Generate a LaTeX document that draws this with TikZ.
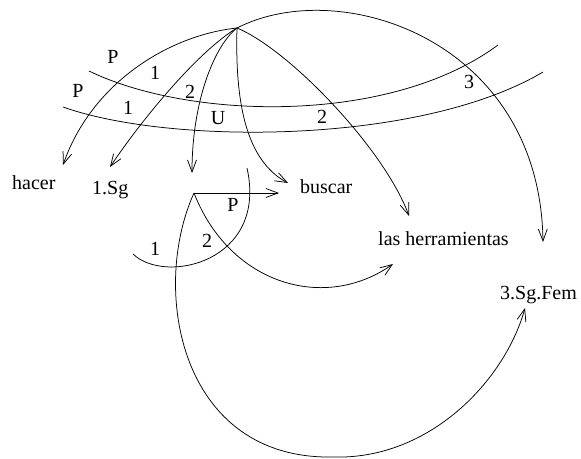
\documentclass[tikz,border=0pt]{standalone}
\usepackage{fontspec}
\setmainfont{Liberation Serif}
\usetikzlibrary{arrows.meta}
\begin{document}
\begin{tikzpicture}[x=1pt,y=-1pt,
  lbl/.style={inner sep=0pt, font=\fontsize{20}{24}\selectfont},
  word/.style={lbl, anchor=base west},
  conn/.style={line width=0.75pt},
  arr/.style={conn, -{Straight Barb[length=12pt,width=9pt]}}
]
\useasboundingbox (0,0) rectangle (581,458);
% anchor points
\coordinate (hub) at (237,28);
\coordinate (corner) at (194,193);
% words
\node[word] (hacer) at (12,189) {hacer};
\node[word] (sg) at (92,194) {1.Sg};
\node[word] (buscar) at (300,193) {buscar};
\node[word] (herr) at (378,245) {las herramientas};
\node[word] (fem) at (500,299) {3.Sg.Fem};
% arrow tips (free ends)
\coordinate (thacer) at (63,165);
\coordinate (tsg) at (110,167);
\coordinate (tmid) at (192,173);
\coordinate (tbus) at (288,183);
\coordinate (therr) at (409,216);
\coordinate (tfem) at (543,242);
\coordinate (tbusH) at (279,193);
\coordinate (therrB) at (393,264);
\coordinate (tfemB) at (525,308);
\coordinate (bottom) at (333,457);
% line endpoints
\coordinate (uA) at (89,71);
\coordinate (uB) at (498,45);
\coordinate (lA) at (63,107);
\coordinate (lB) at (543,72);
\coordinate (aA) at (133,254);
\coordinate (aB) at (247,168);
% upper fan of arrows
\draw[arr] (hub) .. controls (170,35) and (92,82) .. (thacer);
\draw[arr] (hub) .. controls (200,50) and (145,115) .. (tsg);
\draw[arr] (hub) .. controls (215,45) and (192,100) .. (tmid);
\draw[arr] (hub) .. controls (235,100) and (245,160) .. (tbus);
\draw[arr] (hub) .. controls (290,50) and (385,150) .. (therr);
\draw[arr] (hub) .. controls (340,-25) and (540,40) .. (tfem);
% the two long lines
\draw[conn] (uA) .. controls (190,120) and (390,125) .. (uB);
\draw[conn] (lA) .. controls (170,145) and (420,145) .. (lB);
% lower part
\draw[arr] (corner) -- (tbusH);
\draw[conn] (aA) .. controls (165,285) and (268,262) .. (aB);
\draw[arr] (corner) .. controls (230,285) and (325,312) .. (therrB);
\draw[arr] (corner) .. controls (150,290) and (180,460) .. (bottom)
                    .. controls (430,460) and (505,380) .. (tfemB);
% labels
\node[lbl] (l1) at (113,57) {P};
\node[lbl] (l2) at (78,91) {P};
\node[lbl] (l3) at (155,73) {1};
\node[lbl] (l4) at (128,108) {1};
\node[lbl] (l5) at (190,92) {2};
\node[lbl] (l6) at (218,118) {U};
\node[lbl] (l7) at (322,117) {2};
\node[lbl] (l8) at (469,82) {3};
\node[lbl] (l9) at (233,205) {P};
\node[lbl] (l10) at (207,241) {2};
\node[lbl] (l11) at (155,249) {1};
\end{tikzpicture}
\end{document}
